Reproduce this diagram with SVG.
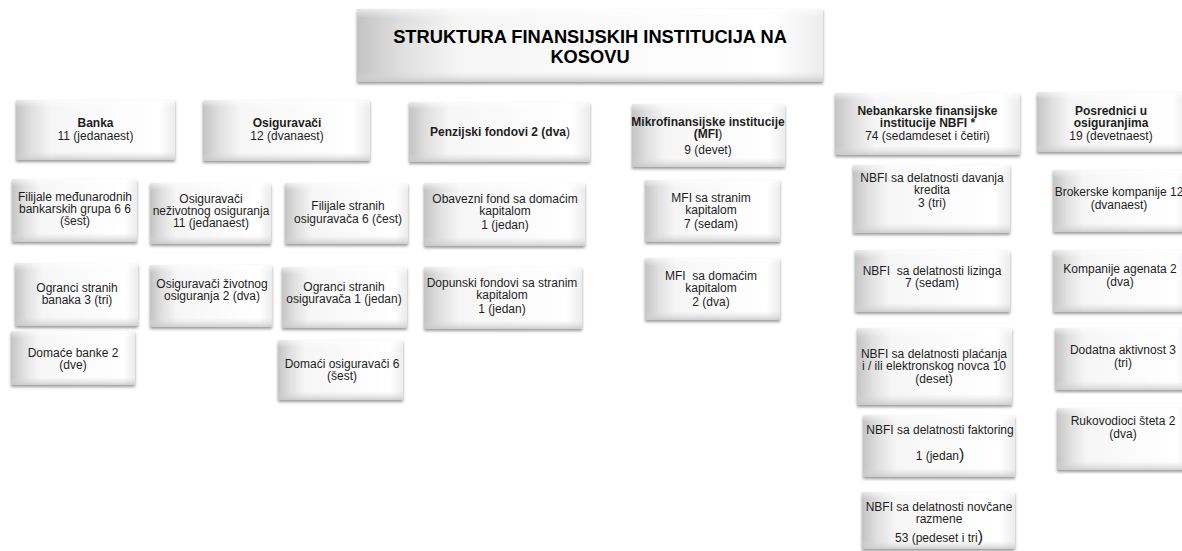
<svg xmlns="http://www.w3.org/2000/svg" width="1182" height="551" viewBox="0 0 1182 551">
<style>
.b{fill:url(#gl);filter:url(#sh)}
.e{fill:url(#gb)}
text{font-family:"Liberation Sans",Arial,sans-serif;font-size:12px;fill:#1e1e1e;text-anchor:middle}
.bd{font-weight:bold}
.tt{font-size:18.3px;font-weight:bold;fill:#000}
.p{font-weight:normal;font-size:16px}
</style>
<defs>
<linearGradient id="gl" x1="0" y1="0" x2="1" y2="0">
<stop offset="0" stop-color="#c4c4c4"/>
<stop offset="0.1" stop-color="#e0e0e0"/>
<stop offset="0.22" stop-color="#f6f6f6"/>
<stop offset="0.9" stop-color="#ffffff"/>
<stop offset="1" stop-color="#ececec"/>
</linearGradient>
<linearGradient id="gb" x1="0" y1="0" x2="0" y2="1">
<stop offset="0" stop-color="#ffffff" stop-opacity="0.6"/>
<stop offset="0.12" stop-color="#ffffff" stop-opacity="0"/>
<stop offset="0.86" stop-color="#dcdcdc" stop-opacity="0"/>
<stop offset="1" stop-color="#c8c8c8" stop-opacity="0.85"/>
</linearGradient>
<filter id="sh" x="-10%" y="-10%" width="120%" height="130%">
<feDropShadow dx="0" dy="2" stdDeviation="1.5" flood-color="#000" flood-opacity="0.4"/>
</filter>
</defs>
<g id="connectors"/>
<g id="title">
<rect class="b" x="357" y="9" width="466" height="73"/><rect class="e" x="357" y="9" width="466" height="73"/>
<text class="tt" x="590" y="43">STRUKTURA FINANSIJSKIH INSTITUCIJA NA</text>
<text class="tt" x="590" y="63">KOSOVU</text>
</g>
<g id="banka">
<rect class="b" x="16" y="100" width="159" height="60"/><rect class="e" x="16" y="100" width="159" height="60"/>
<text class="bd" x="95.5" y="127">Banka</text><text x="95.5" y="140">11 (jedanaest)</text>
</g>
<g id="osiguravaci">
<rect class="b" x="203" y="100" width="167" height="61"/><rect class="e" x="203" y="100" width="167" height="61"/>
<text class="bd" x="287" y="127">Osiguravači</text><text x="287" y="140">12 (dvanaest)</text>
</g>
<g id="penzijski">
<rect class="b" x="409" y="102" width="181" height="60"/><rect class="e" x="409" y="102" width="181" height="60"/>
<text class="bd" x="500" y="136">Penzijski fondovi 2 (dva<tspan font-weight="normal">)</tspan></text>
</g>
<g id="mfi">
<rect class="b" x="632" y="104" width="153" height="63"/><rect class="e" x="632" y="104" width="153" height="63"/>
<text class="bd" x="708" y="126">Mikrofinansijske institucije</text>
<text class="bd" x="708" y="138">(MFI<tspan font-weight="normal">)</tspan></text>
<text x="708" y="154">9 (devet)</text>
</g>
<g id="nbfi">
<rect class="b" x="835" y="93" width="185" height="62"/><rect class="e" x="835" y="93" width="185" height="62"/>
<text class="bd" x="927.5" y="115">Nebankarske finansijske</text>
<text class="bd" x="927.5" y="127">institucije NBFI *</text>
<text x="927.5" y="140">74 (sedamdeset i četiri)</text>
</g>
<g id="posrednici">
<rect class="b" x="1037" y="92" width="150" height="60"/><rect class="e" x="1037" y="92" width="150" height="60"/>
<text class="bd" x="1111" y="115">Posrednici u</text>
<text class="bd" x="1111" y="127">osiguranjima</text>
<text x="1111" y="140">19 (devetnaest)</text>
</g>
<g id="filijale-banke">
<rect class="b" x="12" y="179" width="125" height="63"/><rect class="e" x="12" y="179" width="125" height="63"/>
<text x="75" y="201">Filijale međunarodnih</text><text x="75" y="213">bankarskih grupa 6 6</text><text x="75" y="225">(šest)</text>
</g>
<g id="ogranci-banke">
<rect class="b" x="15" y="263" width="123" height="63"/><rect class="e" x="15" y="263" width="123" height="63"/>
<text x="77" y="292">Ogranci stranih</text><text x="77" y="304">banaka 3 (tri)</text>
</g>
<g id="domace-banke">
<rect class="b" x="11" y="331" width="124" height="54"/><rect class="e" x="11" y="331" width="124" height="54"/>
<text x="73" y="357">Domaće banke 2</text><text x="73" y="369">(dve)</text>
</g>
<g id="nezivotno">
<rect class="b" x="150" y="183" width="121" height="61"/><rect class="e" x="150" y="183" width="121" height="61"/>
<text x="211" y="203">Osiguravači</text><text x="211" y="215">neživotnog osiguranja</text><text x="211" y="227">11 (jedanaest)</text>
</g>
<g id="filijale-osig">
<rect class="b" x="285" y="183" width="123" height="61"/><rect class="e" x="285" y="183" width="123" height="61"/>
<text x="348" y="210">Filijale stranih</text><text x="348" y="223">osiguravača 6 (čest)</text>
</g>
<g id="zivotno">
<rect class="b" x="150" y="265" width="122" height="62"/><rect class="e" x="150" y="265" width="122" height="62"/>
<text x="212" y="288">Osiguravači životnog</text><text x="212" y="300">osiguranja 2 (dva)</text>
</g>
<g id="ogranci-osig">
<rect class="b" x="282" y="267" width="125" height="61"/><rect class="e" x="282" y="267" width="125" height="61"/>
<text x="344" y="291">Ogranci stranih</text><text x="344" y="303">osiguravača 1 (jedan)</text>
</g>
<g id="domaci-osig">
<rect class="b" x="278" y="340" width="125" height="60"/><rect class="e" x="278" y="340" width="125" height="60"/>
<text x="342" y="368">Domaći osiguravači 6</text><text x="342" y="380">(šest)</text>
</g>
<g id="obavezni">
<rect class="b" x="424" y="183" width="161" height="63"/><rect class="e" x="424" y="183" width="161" height="63"/>
<text x="505" y="203">Obavezni fond sa domaćim</text><text x="505" y="215">kapitalom</text><text x="505" y="229">1 (jedan)</text>
</g>
<g id="dopunski">
<rect class="b" x="424" y="267" width="158" height="62"/><rect class="e" x="424" y="267" width="158" height="62"/>
<text x="502" y="287">Dopunski fondovi sa stranim</text><text x="502" y="299">kapitalom</text><text x="502" y="313">1 (jedan)</text>
</g>
<g id="mfi-strani">
<rect class="b" x="645" y="180" width="135" height="62"/><rect class="e" x="645" y="180" width="135" height="62"/>
<text x="711" y="202">MFI sa stranim</text><text x="711" y="214">kapitalom</text><text x="711" y="228">7 (sedam)</text>
</g>
<g id="mfi-domaci">
<rect class="b" x="645" y="258" width="135" height="62"/><rect class="e" x="645" y="258" width="135" height="62"/>
<text x="711" y="280">MFI&#160; sa domaćim</text><text x="711" y="292">kapitalom</text><text x="711" y="306">2 (dva)</text>
</g>
<g id="nbfi-krediti">
<rect class="b" x="853" y="165" width="157" height="68"/><rect class="e" x="853" y="165" width="157" height="68"/>
<text x="932" y="182">NBFI sa delatnosti davanja</text><text x="932" y="194">kredita</text><text x="932" y="207">3 (tri)</text>
</g>
<g id="nbfi-lizing">
<rect class="b" x="855" y="250" width="155" height="62"/><rect class="e" x="855" y="250" width="155" height="62"/>
<text x="932" y="275">NBFI&#160; sa delatnosti lizinga</text><text x="932" y="287">7 (sedam)</text>
</g>
<g id="nbfi-placanje">
<rect class="b" x="857" y="328" width="155" height="77"/><rect class="e" x="857" y="328" width="155" height="77"/>
<text x="934" y="358">NBFI sa delatnosti plaćanja</text><text x="934" y="370">i / ili elektronskog novca 10</text><text x="934" y="383">(deset)</text>
</g>
<g id="nbfi-faktoring">
<rect class="b" x="863" y="415" width="152" height="62"/><rect class="e" x="863" y="415" width="152" height="62"/>
<text x="940" y="434">NBFI sa delatnosti faktoring</text><text x="940" y="460">1 (jedan<tspan class="p">)</tspan></text>
</g>
<g id="nbfi-menjacnice">
<rect class="b" x="862" y="492" width="153" height="57"/><rect class="e" x="862" y="492" width="153" height="57"/>
<text x="939" y="511">NBFI sa delatnosti novčane</text><text x="939" y="523">razmene</text><text x="939" y="542">53 (pedeset i tri<tspan class="p">)</tspan></text>
</g>
<g id="brokerske">
<rect class="b" x="1053" y="170" width="137" height="62"/><rect class="e" x="1053" y="170" width="137" height="62"/>
<text x="1119" y="196">Brokerske kompanije 12</text><text x="1119" y="209">(dvanaest)</text>
</g>
<g id="agenti">
<rect class="b" x="1053" y="250" width="137" height="62"/><rect class="e" x="1053" y="250" width="137" height="62"/>
<text x="1120" y="273">Kompanije agenata 2</text><text x="1120" y="286">(dva)</text>
</g>
<g id="dodatna">
<rect class="b" x="1055" y="328" width="135" height="62"/><rect class="e" x="1055" y="328" width="135" height="62"/>
<text x="1123" y="354">Dodatna aktivnost 3</text><text x="1123" y="367">(tri)</text>
</g>
<g id="rukovodioci">
<rect class="b" x="1057" y="408" width="133" height="62"/><rect class="e" x="1057" y="408" width="133" height="62"/>
<text x="1123" y="425">Rukovodioci šteta 2</text><text x="1123" y="438">(dva)</text>
</g>
</svg>
